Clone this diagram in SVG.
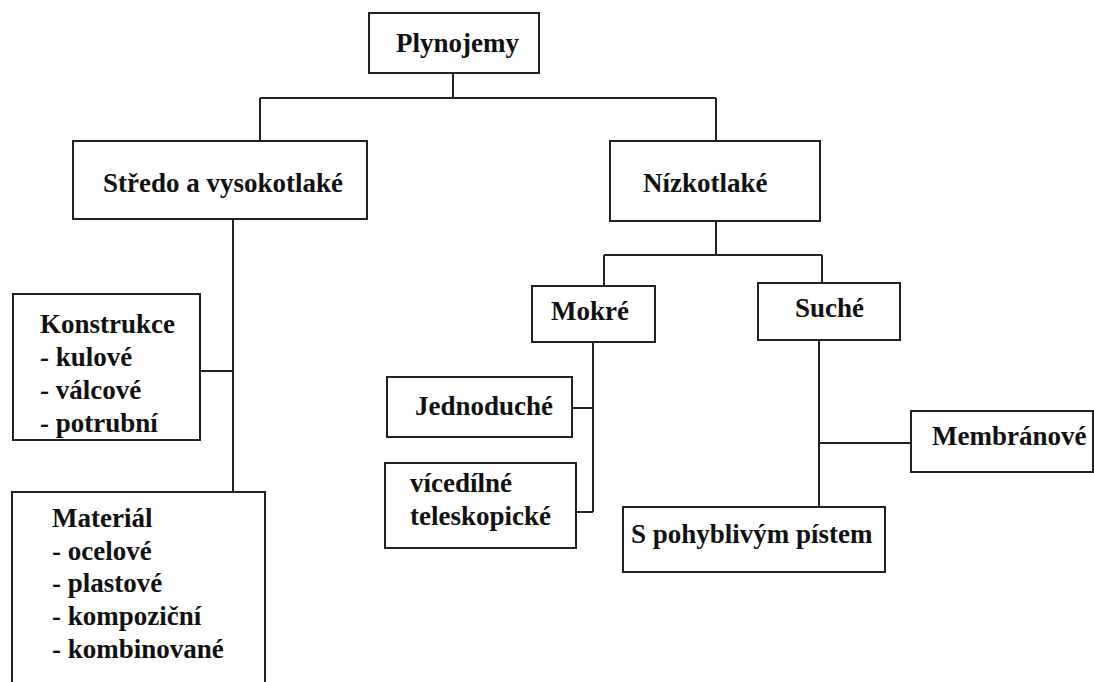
<svg xmlns="http://www.w3.org/2000/svg" width="1094" height="682" viewBox="0 0 1094 682">
  <rect width="1094" height="682" fill="#fff"/>

  <!-- connectors: orthogonal tree links -->
  <g id="connectors">
    <path d="M453 73 V98 M260 98 H716 M260 98 V141 M716 98 V141" fill="none" stroke="#222" stroke-width="2"/>
    <path d="M233 219 V492 M200 371 H233" fill="none" stroke="#222" stroke-width="2"/>
    <path d="M716 221 V255 M604 255 H822 M604 255 V286 M822 255 V283" fill="none" stroke="#222" stroke-width="2"/>
    <path d="M593 342 V512 M572 408 H593 M576 512 H593" fill="none" stroke="#222" stroke-width="2"/>
    <path d="M819 340 V507 M819 443 H911" fill="none" stroke="#222" stroke-width="2"/>
  </g>

  <g id="plynojemy">
    <rect x="369" y="13" width="170" height="60" fill="#fff" stroke="#222" stroke-width="2"/>
    <text x="396" y="52" font-family="Liberation Serif" font-weight="bold" font-size="27" fill="#111">Plynojemy</text>
  </g>

  <g id="stredo">
    <rect x="73" y="141" width="294" height="78" fill="#fff" stroke="#222" stroke-width="2"/>
    <text x="103" y="192" font-family="Liberation Serif" font-weight="bold" font-size="27" fill="#111">Středo a vysokotlaké</text>
  </g>

  <g id="nizkotlake">
    <rect x="610" y="141" width="210" height="80" fill="#fff" stroke="#222" stroke-width="2"/>
    <text x="643" y="192" font-family="Liberation Serif" font-weight="bold" font-size="27" fill="#111">Nízkotlaké</text>
  </g>

  <g id="konstrukce">
    <rect x="13" y="294" width="187" height="146" fill="#fff" stroke="#222" stroke-width="2"/>
    <text x="40" y="333" font-family="Liberation Serif" font-weight="bold" font-size="27" fill="#111">Konstrukce</text>
    <text x="40" y="366" font-family="Liberation Serif" font-weight="bold" font-size="27" fill="#111">- kulové</text>
    <text x="40" y="399" font-family="Liberation Serif" font-weight="bold" font-size="27" fill="#111">- válcové</text>
    <text x="40" y="432" font-family="Liberation Serif" font-weight="bold" font-size="27" fill="#111">- potrubní</text>
  </g>

  <g id="material">
    <rect x="12" y="492" width="253" height="200" fill="#fff" stroke="#222" stroke-width="2"/>
    <text x="52" y="527" font-family="Liberation Serif" font-weight="bold" font-size="27" fill="#111">Materiál</text>
    <text x="52" y="560" font-family="Liberation Serif" font-weight="bold" font-size="27" fill="#111">- ocelové</text>
    <text x="52" y="592" font-family="Liberation Serif" font-weight="bold" font-size="27" fill="#111">- plastové</text>
    <text x="52" y="625" font-family="Liberation Serif" font-weight="bold" font-size="27" fill="#111">- kompoziční</text>
    <text x="52" y="658" font-family="Liberation Serif" font-weight="bold" font-size="27" fill="#111">- kombinované</text>
  </g>

  <g id="mokre">
    <rect x="532" y="286" width="123" height="56" fill="#fff" stroke="#222" stroke-width="2"/>
    <text x="551" y="320" font-family="Liberation Serif" font-weight="bold" font-size="27" fill="#111">Mokré</text>
  </g>

  <g id="suche">
    <rect x="758" y="283" width="142" height="57" fill="#fff" stroke="#222" stroke-width="2"/>
    <text x="795" y="317" font-family="Liberation Serif" font-weight="bold" font-size="27" fill="#111">Suché</text>
  </g>

  <g id="jednoduche">
    <rect x="387" y="377" width="185" height="60" fill="#fff" stroke="#222" stroke-width="2"/>
    <text x="415" y="415" font-family="Liberation Serif" font-weight="bold" font-size="27" fill="#111">Jednoduché</text>
  </g>

  <g id="vicedilne">
    <rect x="385" y="463" width="191" height="85" fill="#fff" stroke="#222" stroke-width="2"/>
    <text x="410" y="492" font-family="Liberation Serif" font-weight="bold" font-size="27" fill="#111">vícedílné</text>
    <text x="410" y="525" font-family="Liberation Serif" font-weight="bold" font-size="27" fill="#111">teleskopické</text>
  </g>

  <g id="membranove">
    <rect x="911" y="411" width="182" height="61" fill="#fff" stroke="#222" stroke-width="2"/>
    <text x="932" y="445" font-family="Liberation Serif" font-weight="bold" font-size="27" fill="#111">Membránové</text>
  </g>

  <g id="piest">
    <rect x="623" y="507" width="262" height="65" fill="#fff" stroke="#222" stroke-width="2"/>
    <text x="631" y="543" font-family="Liberation Serif" font-weight="bold" font-size="27" fill="#111">S pohyblivým pístem</text>
  </g>
</svg>
